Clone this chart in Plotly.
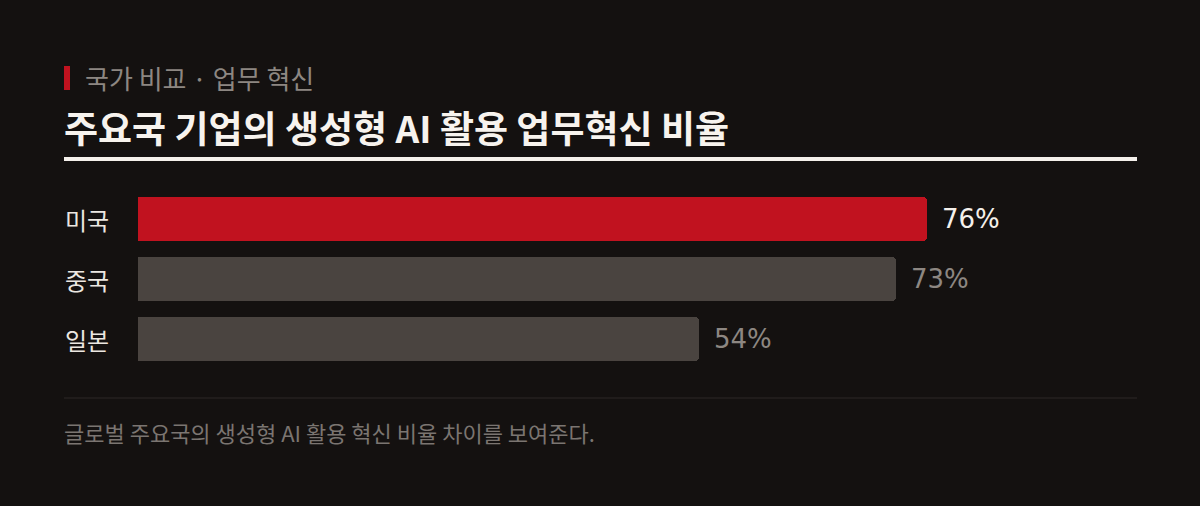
import plotly.graph_objects as go

# data
countries = ["미국", "중국", "일본"]
rates = [76, 73, 54]
bar_colors = ["#c1121f", "#4a4440", "#4a4440"]
label_colors = ["#f4f0eb", "#8d8782", "#8d8782"]

kicker = "국가 비교 · 업무 혁신"
title = "주요국 기업의 생성형 AI 활용 업무혁신 비율"
note = "글로벌 주요국의 생성형 AI 활용 혁신 비율 차이를 보여준다."

W, H = 1200, 506
BG = "#141110"
KR = "Noto Sans CJK KR"


def px(x):
    return x / W


def py(y):
    return 1 - y / H


fig = go.Figure()
fig.add_trace(go.Bar(
    x=rates, y=countries, orientation="h",
    marker=dict(color=bar_colors, line=dict(width=0), cornerradius=4),
    width=0.72, hoverinfo="skip",
))

# value labels just past the bar ends
for c, v, col in zip(countries, rates, label_colors):
    fig.add_annotation(x=v, y=c, text=f"{v}%", showarrow=False,
                       xanchor="left", xshift=13,
                       font=dict(family="DejaVu Sans", size=26, color=col))

# category labels on the left
for c in countries:
    fig.add_annotation(x=px(63), xref="paper", y=c, yref="y", text=c,
                       showarrow=False, xanchor="left",
                       font=dict(family=KR, size=24, color="#ece7e1"))

# header
fig.add_annotation(x=px(83), y=py(77), xref="paper", yref="paper", text=kicker,
                   showarrow=False, xanchor="left", yanchor="middle",
                   font=dict(family=KR, size=26, color="#8d8782"))
fig.add_annotation(x=px(62), y=py(127), xref="paper", yref="paper",
                   text=f"<b>{title}</b>", showarrow=False,
                   xanchor="left", yanchor="middle",
                   font=dict(family=KR, size=37, color="#f7f3ee"))
fig.add_annotation(x=px(62), y=py(432), xref="paper", yref="paper", text=note,
                   showarrow=False, xanchor="left", yanchor="middle",
                   font=dict(family=KR, size=22, color="#7b7571"))

fig.add_shape(type="rect", xref="paper", yref="paper",
              x0=px(64), x1=px(70), y0=py(66), y1=py(90),
              fillcolor="#c1121f", line=dict(width=0))
fig.add_shape(type="line", xref="paper", yref="paper",
              x0=px(64), x1=px(1137), y0=py(159), y1=py(159),
              line=dict(color="#f4f0eb", width=4))
fig.add_shape(type="line", xref="paper", yref="paper",
              x0=px(64), x1=px(1137), y0=py(398), y1=py(398),
              line=dict(color="#2c2826", width=1))

fig.update_layout(
    width=W, height=H, paper_bgcolor=BG, plot_bgcolor=BG,
    margin=dict(l=0, r=0, t=0, b=0), showlegend=False,
    xaxis=dict(domain=[px(138), px(1137)], visible=False, fixedrange=True,
               range=[0, (1137 - 138) / 10.38]),  # 10.38 px per point
    yaxis=dict(domain=[py(369), py(189)], autorange="reversed",
               visible=False, fixedrange=True),
    bargap=0,
)

fig.write_html("out.html", config={"displayModeBar": False},
               post_script="document.body.style.margin='0';")
